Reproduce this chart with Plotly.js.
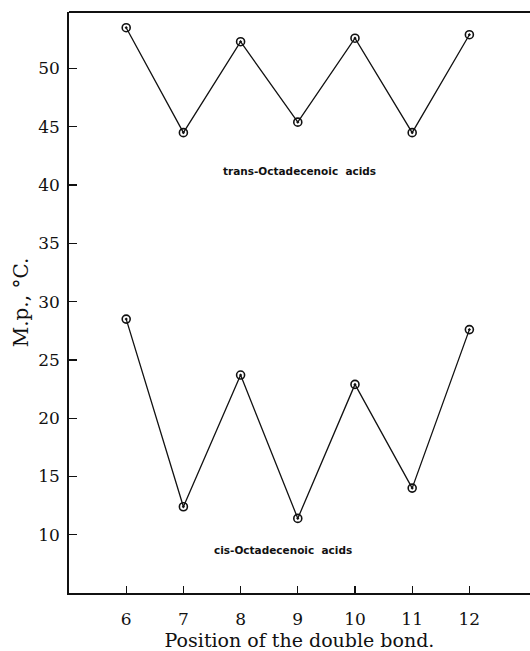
<!DOCTYPE html>
<html>
<head>
<meta charset="utf-8">
<script src="https://cdn.plot.ly/plotly-3.0.1.min.js"></script>
<style>html,body{margin:0;padding:0;background:#fff;}#chart{width:530px;height:651px;}</style>
</head>
<body>
<div id="chart"></div>
<script>
const positions = [6, 7, 8, 9, 10, 11, 12];
const transMp = [53.5, 44.5, 52.3, 45.4, 52.6, 44.5, 52.9];
const cisMp = [28.5, 12.4, 23.7, 11.4, 22.9, 14.0, 27.6];
const xTicks = [6, 7, 8, 9, 10, 11, 12];
const yTicks = [10, 15, 20, 25, 30, 35, 40, 45, 50];
const transLabel = "trans-Octadecenoic\u00a0\u00a0acids";
const cisLabel = "cis-Octadecenoic\u00a0\u00a0acids";

const markerStyle = {symbol: 'circle-open-dot', size: 8, color: '#111', line: {width: 1.6, color: '#111'}};
const lineStyle = {color: '#111', width: 1.3};

const data = [
  {x: positions, y: transMp, mode: 'lines+markers', marker: markerStyle, line: lineStyle, showlegend: false, hoverinfo: 'skip'},
  {x: positions, y: cisMp, mode: 'lines+markers', marker: markerStyle, line: lineStyle, showlegend: false, hoverinfo: 'skip'}
];

const serif = 'DejaVu Serif, Liberation Serif, serif';
const layout = {
  width: 530, height: 651,
  margin: {l: 69, r: 0, t: 12, b: 58},
  paper_bgcolor: '#fff', plot_bgcolor: '#fff',
  font: {family: serif, color: '#111', size: 17},
  xaxis: {
    range: [5, 13.06], tickvals: xTicks, ticktext: xTicks.map(String),
    ticks: 'inside', ticklen: 7, tickwidth: 1.3, tickcolor: '#111',
    showline: true, linecolor: '#111', linewidth: 1.8,
    showgrid: false, zeroline: false,
    tickfont: {family: serif, size: 17, color: '#111'},
    ticklabelstandoff: 10,
    automargin: false,
    title: {text: 'Position of the double bond.', font: {family: serif, size: 19, color: '#111'}, standoff: 6}
  },
  yaxis: {
    range: [5, 54.85], tickvals: yTicks, ticktext: yTicks.map(String),
    ticks: 'inside', ticklen: 8, tickwidth: 1.3, tickcolor: '#111',
    showline: true, linecolor: '#111', linewidth: 1.8,
    showgrid: false, zeroline: false,
    tickfont: {family: serif, size: 17, color: '#111'},
    ticklabelstandoff: 4,
    automargin: false,
    title: {text: 'M.p., °C.', font: {family: serif, size: 20, color: '#111'}, standoff: 4}
  },
  shapes: [
    {type: 'line', xref: 'paper', yref: 'paper', x0: 0, x1: 1, y0: 1, y1: 1, line: {color: '#111', width: 1.8}}
  ],
  annotations: [
    {x: 9.03, y: 41.2, xref: 'x', yref: 'y', text: transLabel, showarrow: false,
     font: {family: 'DejaVu Sans, sans-serif', size: 10.5, color: '#111', weight: 'bold'}},
    {x: 8.75, y: 8.7, xref: 'x', yref: 'y', text: cisLabel, showarrow: false,
     font: {family: 'DejaVu Sans, sans-serif', size: 10.5, color: '#111', weight: 'bold'}}
  ]
};

Plotly.newPlot('chart', data, layout, {staticPlot: true, displayModeBar: false});
</script>
</body>
</html>
